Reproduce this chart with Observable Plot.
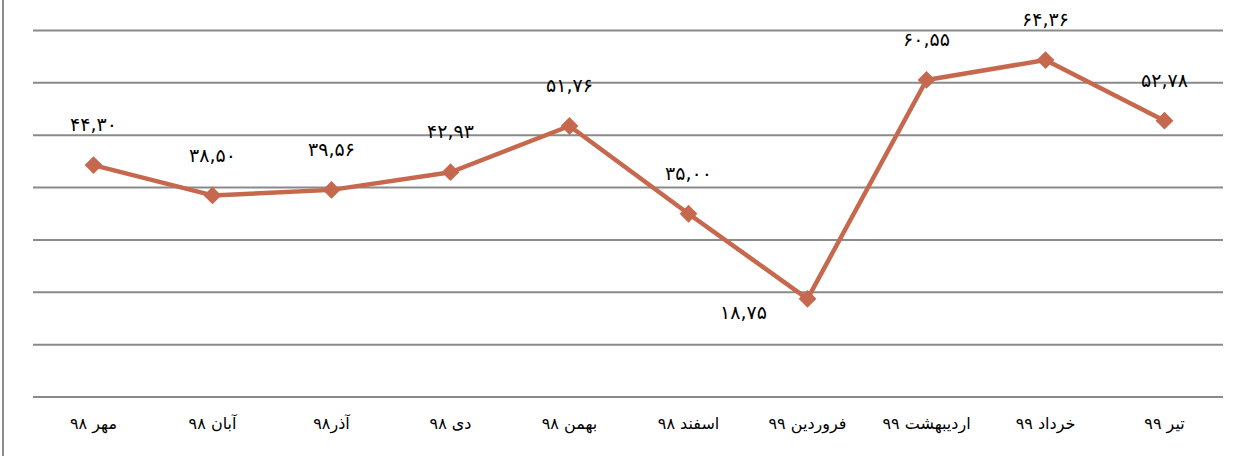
<!DOCTYPE html>
<html>
<head>
<meta charset="utf-8">
<script src="https://cdn.jsdelivr.net/npm/d3@7"></script>
<script src="https://cdn.jsdelivr.net/npm/@observablehq/plot@0.6"></script>
<style>
  html, body { margin: 0; padding: 0; background: #fff; }
  #wrap { position: relative; width: 1236px; height: 456px; }
  #edge { position: absolute; left: 2px; top: 0; width: 2px; height: 456px; background: #8c8c8c; }
</style>
</head>
<body>
<div id="wrap"><div id="edge"></div></div>
<script>
const months = ["مهر ۹۸", "آبان ۹۸", "آذر۹۸", "دی ۹۸", "بهمن ۹۸", "اسفند ۹۸", "فروردین ۹۹", "اردیبهشت ۹۹", "خرداد ۹۹", "تیر ۹۹"];
const values = [44.30, 38.50, 39.56, 42.93, 51.76, 35.00, 18.75, 60.55, 64.36, 52.78];
const yTicks = [0, 10, 20, 30, 40, 50, 60, 70];

const fa = s => s.replace(/[0-9]/g, d => "۰۱۲۳۴۵۶۷۸۹"[d]);
const fmt = v => fa(v.toFixed(2).replace(".", ","));

const data = months.map((m, i) => ({month: m, value: values[i]}));
const minV = d3.min(values);
const color = "#C6684D";

const chart = Plot.plot({
  width: 1236,
  height: 456,
  marginLeft: 33,
  marginRight: 13,
  marginTop: 30,
  marginBottom: 59.5,
  style: {fontFamily: "DejaVu Sans", background: "transparent"},
  x: {type: "point", domain: months, padding: 0.5, label: null},
  y: {domain: [0, 70], axis: null},
  marks: [
    Plot.ruleY(yTicks, {stroke: "#8a8a8a", strokeWidth: 2}),
    Plot.axisX({tickSize: 0, tickPadding: 21, fontSize: 16, fill: "#000", label: null}),
    Plot.line(data, {x: "month", y: "value", stroke: color, strokeWidth: 4.5, strokeLinejoin: "round"}),
    Plot.dot(data, {x: "month", y: "value", symbol: "diamond2", r: 8, fill: color, stroke: null}),
    Plot.text(data.filter(d => d.value !== minV), {x: "month", y: "value", text: d => fmt(d.value), dy: -40, fontSize: 19, fill: "#000", lineAnchor: "middle"}),
    Plot.text(data.filter(d => d.value === minV), {x: "month", y: "value", text: d => fmt(d.value), dx: -64, dy: 14, fontSize: 19, fill: "#000", lineAnchor: "middle"})
  ]
});
document.getElementById("wrap").appendChild(chart);
chart.style.position = "absolute";
chart.style.left = "0";
chart.style.top = "0";
</script>
</body>
</html>
